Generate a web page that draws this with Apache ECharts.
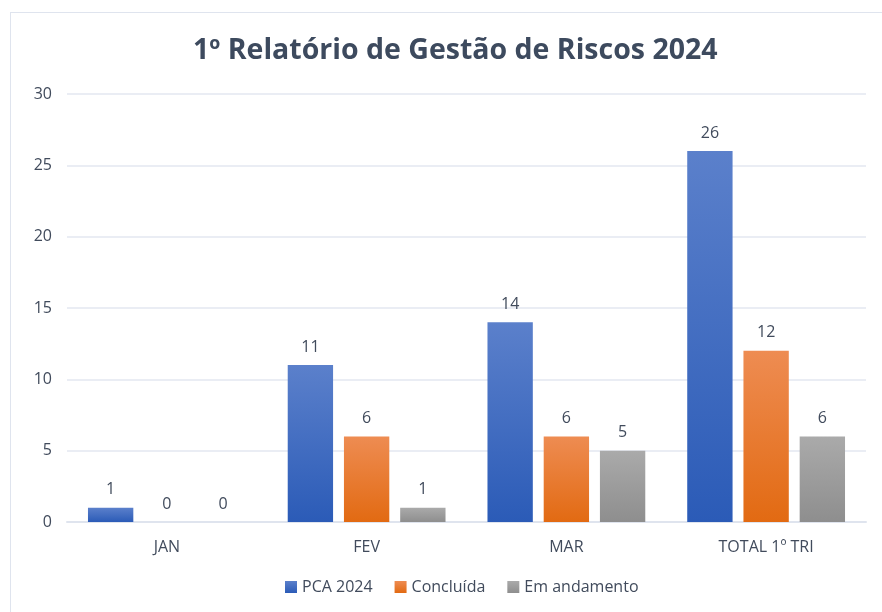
<!DOCTYPE html>
<html>
<head>
<meta charset="utf-8">
<script src="https://cdn.jsdelivr.net/npm/echarts@6/dist/echarts.min.js"></script>
<style>
  html, body { margin: 0; padding: 0; background: #fff; }
  #frame {
    position: absolute; left: 10px; top: 12px; width: 900px; height: 640px;
    border: 1.5px solid #dfe4ee;
  }
  #chart { position: absolute; left: 0; top: 0; width: 882px; height: 612px; }
</style>
</head>
<body>
<div id="frame"></div>
<div id="chart"></div>
<script>
// dados do gráfico
var categorias = ["JAN", "FEV", "MAR", "TOTAL 1º TRI"];
var pca2024 = [1, 11, 14, 26];
var concluida = [0, 6, 6, 12];
var emAndamento = [0, 1, 5, 6];
var serieNomes = ["PCA 2024", "Concluída", "Em andamento"];

var fonte = "'Open Sans', 'Noto Sans', sans-serif";
var corTexto = "#414b5c";

function grad(top, bottom) {
  return new echarts.graphic.LinearGradient(0, 0, 0, 1, [
    { offset: 0, color: top },
    { offset: 1, color: bottom }
  ]);
}

var rotulo = {
  show: true,
  position: "top",
  distance: 10,
  color: corTexto,
  fontFamily: fonte,
  fontSize: 16
};

var chart = echarts.init(document.getElementById("chart"));
chart.setOption({
  animation: false,
  title: {
    text: "1º Relatório de Gestão de Riscos 2024",
    left: 188,
    top: 31,
    textStyle: { fontFamily: fonte, fontSize: 28.5, fontWeight: "bold", color: "#3d4a5e" }
  },
  legend: {
    bottom: 12,
    left: 280,
    itemWidth: 12,
    itemHeight: 12,
    itemGap: 22,
    icon: "rect",
    textStyle: { fontFamily: fonte, fontSize: 16, color: corTexto },
    data: serieNomes
  },
  grid: { left: 67, right: 16, top: 94, bottom: 90 },
  xAxis: {
    type: "category",
    data: categorias,
    axisTick: { show: false },
    axisLine: { lineStyle: { color: "#dfe4ee", width: 2 } },
    axisLabel: { fontFamily: fonte, fontSize: 16, color: corTexto, margin: 17 }
  },
  yAxis: {
    type: "value",
    min: 0,
    max: 30,
    interval: 5,
    axisLine: { show: false },
    axisTick: { show: false },
    splitLine: { lineStyle: { color: "#e3e7f0", width: 1.5 } },
    axisLabel: { fontFamily: fonte, fontSize: 16, color: corTexto, margin: 15 }
  },
  series: [
    {
      name: serieNomes[0],
      type: "bar",
      data: pca2024,
      barGap: "24%",
      barCategoryGap: "21%",
      itemStyle: { color: grad("#5b80cb", "#2b5bb7") },
      label: rotulo
    },
    {
      name: serieNomes[1],
      type: "bar",
      data: concluida,
      itemStyle: { color: grad("#ee8c52", "#e26a12") },
      label: rotulo
    },
    {
      name: serieNomes[2],
      type: "bar",
      data: emAndamento,
      itemStyle: { color: grad("#aaaaaa", "#8e8e8e") },
      label: rotulo
    }
  ]
});
</script>
</body>
</html>
